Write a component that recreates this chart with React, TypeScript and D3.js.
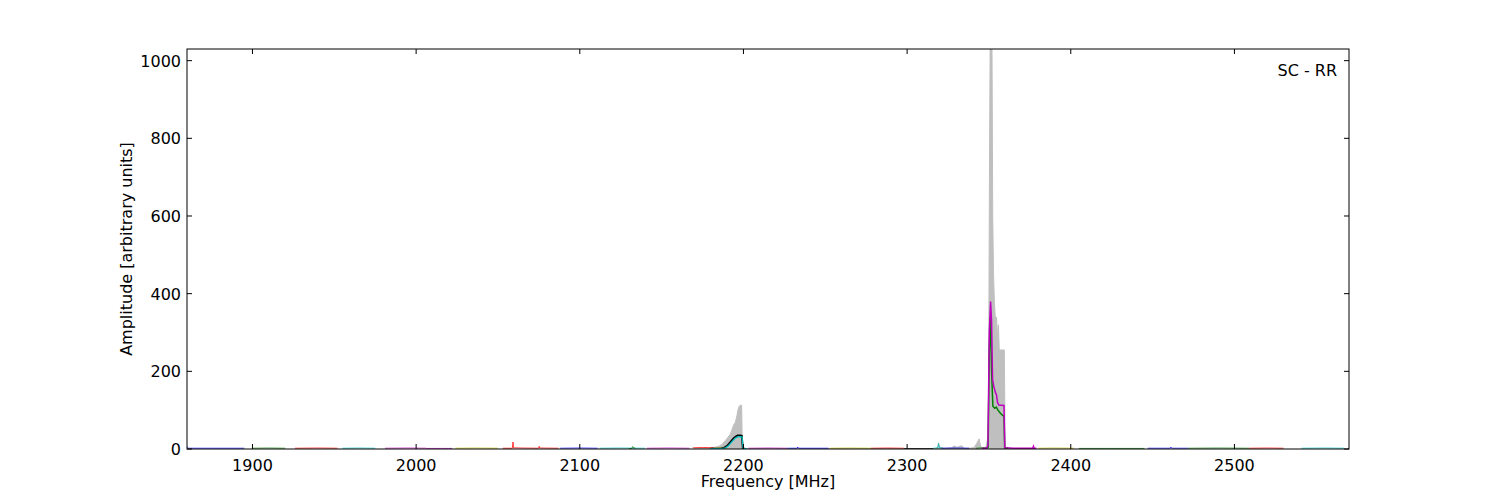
import React from "react";
import * as d3 from "d3";

const W = 1500;
const H = 500;
const LEFT = 187;
const RIGHT = 1349;
const TOP = 49;
const BOTTOM = 449;

const xDomain = [1860, 2570];
const yDomain = [0, 1030];
const xTicks = [1900, 2000, 2100, 2200, 2300, 2400, 2500];
const yTicks = [0, 200, 400, 600, 800, 1000];

const COLORS: Record<string, string> = {
  b: "#0000ff",
  g: "#008000",
  r: "#ff0000",
  c: "#00bfbf",
  m: "#bf00bf",
  y: "#bfbf00",
  k: "#000000",
};

// Narrow-band baseline series (freq MHz, amplitude)
const bandColors = ["b", "g", "r", "c", "m", "m", "y", "r", "b", "c", "g", "m", "r", "y", "m", "b", "y", "r", "k", "c", "b", "g", "y", "g", "b", "g", "r", "c"];
const bandFreqs = [
  [1860, 1861, 1863, 1875, 1895],
  [1900, 1910, 1920],
  [1926, 1940, 1952],
  [1955, 1965, 1975],
  [1981, 1995, 2006],
  [2006, 2015, 2022],
  [2024, 2037, 2050],
  [2053, 2058.8, 2059.2, 2059.6, 2065, 2074.8, 2075.2, 2075.6, 2087],
  [2088, 2100, 2111],
  [2112, 2125, 2140],
  [2130, 2131.8, 2132.2, 2134],
  [2141, 2155, 2167],
  [2169, 2175, 2182],
  [2182, 2186, 2190],
  [2203, 2215, 2227],
  [2227, 2232.8, 2233.2, 2233.6, 2252],
  [2253, 2265, 2278],
  [2278, 2288, 2298],
  [2298, 2308, 2316],
  [2316, 2318.8, 2319.2, 2319.8, 2322],
  [2321, 2330, 2338],
  [2342, 2345, 2348],
  [2380, 2390, 2402],
  [2405, 2425, 2445],
  [2447, 2460.8, 2461.2, 2461.6, 2472],
  [2472, 2490, 2509],
  [2509, 2520, 2530],
  [2541, 2555, 2567],
];
const bandAmps = [
  [6, 2, 2, 2, 2],
  [2, 2.5, 2],
  [2, 2.5, 2],
  [2, 2.5, 2],
  [2, 2.5, 2],
  [1.5, 1.5, 1.5],
  [2, 2.5, 2],
  [2, 2, 18, 3, 2.5, 2, 7, 2.5, 2],
  [2, 2.5, 2],
  [2, 2.5, 2],
  [1, 1, 6, 1],
  [2, 2.5, 2],
  [3, 4, 3],
  [2, 3, 2],
  [2, 2.5, 2],
  [2, 2, 5, 2, 2],
  [2, 2.5, 2],
  [2, 2.5, 2],
  [1, 1, 1],
  [2, 3, 14, 3, 2],
  [2, 2.5, 2],
  [2, 3, 2],
  [2, 2.5, 2],
  [1.5, 1.5, 1.5],
  [2, 2, 5, 2, 2],
  [2, 2.5, 2],
  [2, 2.5, 2],
  [2, 2.5, 2],
];

// Grey envelope (maximum) filled area
const envFreqs = [
  2170, 2178, 2182, 2185, 2187, 2189, 2190.5, 2192, 2193, 2194, 2195, 2196, 2196.6, 2197.4, 2198.2, 2198.9, 2199.3, 2200,
  2317, 2318.6, 2319.2, 2320, 2322, 2327, 2329, 2330.5, 2332, 2333.5, 2335, 2338, 2341, 2342.5, 2344, 2345, 2346.5, 2348,
  2349.2, 2349.8, 2350.3, 2350.8, 2351.8, 2352.3, 2352.8, 2353.3, 2354, 2354.6, 2355.2, 2355.8, 2356.3, 2359.4, 2359.9, 2361,
];
const envAmps = [
  0, 2, 4, 7, 12, 22, 30, 38, 50, 62, 68, 85, 100, 110, 113, 112, 0, 0,
  0, 4, 16, 5, 2, 3, 8, 4, 7, 8, 2, 2, 4, 14, 26, 6, 3, 3,
  25, 150, 700, 1100, 1100, 600, 450, 380, 330, 340, 290, 320, 255, 255, 0, 0,
];

// Black and cyan lines at 2195 MHz
const blackFreqs = [2180, 2186, 2188, 2190, 2192, 2194, 2195.5, 2196.5, 2198, 2199, 2199.6, 2201];
const blackAmps = [1, 1, 3, 8, 18, 28, 33, 35, 35, 34, 1, 1];
const cyanFreqs = [2180, 2187, 2189, 2191, 2193, 2195, 2196.5, 2198.2, 2199.2, 2199.8, 2202];
const cyanAmps = [1, 1, 3, 9, 19, 28, 31, 32, 31, 1, 1];

// Green and magenta lines at 2352 MHz
const greenFreqs = [2346, 2348, 2349.5, 2350.2, 2350.9, 2351.6, 2352.4, 2353.5, 2354.5, 2355.5, 2357, 2358.5, 2359.2, 2359.6, 2362];
const greenAmps = [2, 2, 4, 250, 340, 200, 110, 105, 108, 100, 92, 86, 85, 3, 2];
const magentaFreqs = [2346, 2348.5, 2349.4, 2350.2, 2351, 2351.6, 2352.2, 2353, 2354, 2354.6, 2355.2, 2356, 2359.2, 2359.7, 2365, 2376.8, 2377.2, 2377.6, 2379];
const magentaAmps = [2, 2, 8, 300, 380, 330, 180, 160, 145, 140, 120, 113, 112, 3, 2, 2, 7, 2, 2];

const FONT = "'DejaVu Sans', sans-serif";

export default function App() {
  const x = d3.scaleLinear().domain(xDomain).range([LEFT, RIGHT]);
  const y = d3.scaleLinear().domain(yDomain).range([BOTTOM, TOP]);

  const line = d3
    .line<[number, number]>()
    .x((d) => x(d[0]))
    .y((d) => y(d[1]));
  const area = d3
    .area<[number, number]>()
    .x((d) => x(d[0]))
    .y0(y(0))
    .y1((d) => y(d[1]));

  const zip = (f: number[], a: number[]) => f.map((v, i) => [v, a[i]] as [number, number]);

  const tickLen = 5;

  return (
    <svg
      width={W}
      height={H}
      style={{ position: "absolute", left: 0, top: 0, background: "#fff" }}
      fontFamily={FONT}
    >
      <defs>
        <clipPath id="plotclip">
          <rect x={LEFT} y={TOP} width={RIGHT - LEFT} height={BOTTOM - TOP} />
        </clipPath>
      </defs>
      <rect x={0} y={0} width={W} height={H} fill="#fff" />
      <g clipPath="url(#plotclip)">
        <path d={area(zip(envFreqs, envAmps)) || ""} fill="#bfbfbf" stroke="#bfbfbf" strokeWidth={1} />
        {bandFreqs.map((f, i) => (
          <path
            key={i}
            d={line(zip(f, bandAmps[i])) || ""}
            fill="none"
            stroke={COLORS[bandColors[i]]}
            strokeWidth={1}
            opacity={0.75}
          />
        ))}
        <path d={line(zip(blackFreqs, blackAmps)) || ""} fill="none" stroke={COLORS.k} strokeWidth={1.8} />
        <path d={line(zip(cyanFreqs, cyanAmps)) || ""} fill="none" stroke={COLORS.c} strokeWidth={1.3} />
        <path d={line(zip(greenFreqs, greenAmps)) || ""} fill="none" stroke={COLORS.g} strokeWidth={1.5} />
        <path d={line(zip(magentaFreqs, magentaAmps)) || ""} fill="none" stroke={COLORS.m} strokeWidth={1.5} />
      </g>

      {/* frame */}
      <rect x={LEFT} y={TOP} width={RIGHT - LEFT} height={BOTTOM - TOP} fill="none" stroke="#000" strokeWidth={1} />

      {/* x ticks */}
      {xTicks.map((t) => (
        <g key={"x" + t}>
          <line x1={x(t)} x2={x(t)} y1={BOTTOM} y2={BOTTOM - tickLen} stroke="#000" />
          <line x1={x(t)} x2={x(t)} y1={TOP} y2={TOP + tickLen} stroke="#000" />
          <text x={x(t)} y={BOTTOM + 22} fontSize={16} textAnchor="middle" fill="#000">
            {t}
          </text>
        </g>
      ))}
      {/* y ticks */}
      {yTicks.map((t) => (
        <g key={"y" + t}>
          <line x1={LEFT} x2={LEFT + tickLen} y1={y(t)} y2={y(t)} stroke="#000" />
          <line x1={RIGHT} x2={RIGHT - tickLen} y1={y(t)} y2={y(t)} stroke="#000" />
          <text x={LEFT - 6} y={y(t) + 6} fontSize={16} textAnchor="end" fill="#000">
            {t}
          </text>
        </g>
      ))}

      <text x={(LEFT + RIGHT) / 2} y={487} fontSize={16} textAnchor="middle" fill="#000">
        Frequency [MHz]
      </text>
      <text
        transform={`translate(132, ${(TOP + BOTTOM) / 2}) rotate(-90)`}
        fontSize={16}
        textAnchor="middle"
        fill="#000"
      >
        Amplitude [arbitrary units]
      </text>
      <text x={RIGHT - 12} y={76} fontSize={16} textAnchor="end" fill="#000">
        SC - RR
      </text>
    </svg>
  );
}
